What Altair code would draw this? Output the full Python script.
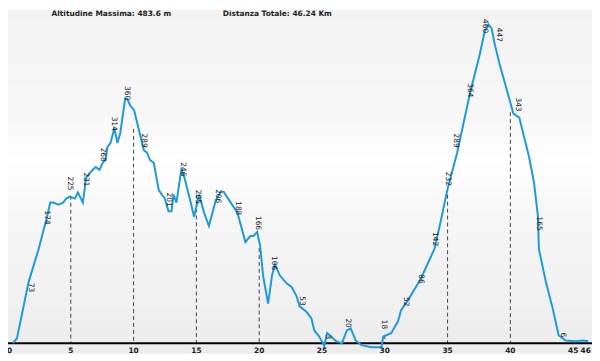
import altair as alt
import pandas as pd

# Elevation profile (distance in km, altitude in m)
km = [0.39, 0.71, 1.65, 2.43, 3.06, 3.37, 3.61, 4.00, 4.39, 4.63, 4.94, 5.33, 5.57, 5.96,
      6.12, 6.20, 6.51, 6.75, 6.98, 7.29, 7.53, 7.76, 7.92, 8.16, 8.47, 8.71, 8.94, 9.33,
      9.49, 9.73, 10.04, 10.43, 10.82, 11.06, 11.29, 11.61, 12.00, 12.24, 12.47, 12.78,
      13.02, 13.18, 13.41, 13.80, 14.04, 14.43, 14.82, 15.22, 15.61, 16.00, 16.55, 16.94,
      17.18, 17.73, 18.27, 18.90, 19.29, 19.53, 19.84, 20.08, 20.31, 20.71, 21.02, 21.25,
      21.65, 22.20, 22.59, 22.98, 23.22, 23.76, 24.16, 24.39, 24.78, 25.18, 25.41, 25.73,
      26.12, 26.59, 26.98, 27.29, 27.69, 28.16, 28.94, 29.73, 29.88, 30.51, 31.06, 31.29,
      31.84, 32.86, 33.96, 34.43, 34.98, 35.76, 36.78, 37.57, 37.96, 38.27, 38.51, 38.75,
      39.14, 40.24, 40.71, 41.49, 41.88, 42.20, 42.27, 42.82, 43.37, 43.84, 44.39, 45.18,
      45.80, 46.20]
elev = [0, 7, 92, 140, 185, 210, 210, 207, 210, 216, 219, 216, 225, 210,
        232, 247, 254, 259, 263, 259, 269, 274, 293, 299, 321, 299, 314, 365,
        365, 355, 348, 318, 288, 285, 274, 269, 229, 222, 217, 197,
        197, 222, 210, 259, 248, 219, 189, 222, 195, 175, 214, 226,
        226, 210, 195, 151, 160, 160, 166, 145, 101, 59, 101, 118,
        101, 89, 84, 70, 55, 47, 37, 19, 10, -4, 15, 10,
        3, 0, 19, 22, 4, -3, -6, -6, 10, 15, 33, 49,
        64, 96, 141, 180, 229, 284, 373, 432, 466, 476, 470, 447,
        417, 343, 337, 278, 240, 189, 141, 92, 52, 12, 4, 3,
        4, 3]

# Altitude labels along the profile
label_km = [1.8, 3.14, 4.94, 6.2, 7.53, 8.4, 9.5, 10.8, 12.8, 13.9, 15.1, 16.7, 18.3,
            19.9, 21.2, 23.4, 25.5, 27.1, 29.9, 31.7, 32.9, 34.0, 35.0, 35.7, 36.8,
            38.0, 39.1, 40.6, 42.3, 44.2]
label_val = [73, 174, 225, 231, 268, 314, 360, 289, 201, 246, 205, 206, 188,
             166, 106, 53, 3, 20, 18, 52, 86, 142, 232, 289, 364,
             460, 447, 343, 165, 6]

# Dashed drop lines every 5 km
drop_km = [5, 10, 15, 20, 25, 30, 35, 40]
drop_elev = [220, 320, 222, 142, 2, 12, 232, 345]

# Distance axis labels
tick_km = [0, 5, 10, 15, 20, 25, 30, 35, 40, 45, 46]
tick_text = ["0", "5", "10", "15", "20", "25", "30", "35", "40", "45", "46"]

title_left = "Altitudine Massima: 483.6 m"
title_right = "Distanza Totale: 46.24 Km"

W, H = 590, 347

# Background shading: vertical gradient built from thin bands (styling only)
stops = [(0.0, 242), (0.3, 247), (0.45, 255), (0.6, 246), (1.0, 236)]
N = 60
b_top, b_bot, b_col = [], [], []
for i in range(N):
    f = (i + 0.5) / N
    for (o0, v0), (o1, v1) in zip(stops[:-1], stops[1:]):
        if o0 <= f <= o1:
            v = round(v0 + (v1 - v0) * (f - o0) / (o1 - o0))
            break
    b_top.append(i * H / N)
    b_bot.append((i + 1) * H / N + 0.6)
    b_col.append("#%02x%02x%02x" % (v, v, v))

xs = alt.Scale(domain=[0, 46.5], nice=False, zero=False)
ys = alt.Scale(domain=[-15, 498], nice=False, zero=False)

prof = pd.DataFrame({"km": km, "elev": elev})
labs = pd.DataFrame({"km": label_km, "elev": label_val})
drops = pd.DataFrame({"km": drop_km, "elev": drop_elev})
ticks = pd.DataFrame({"km": tick_km, "t": tick_text})
bands = pd.DataFrame({"yt": b_top, "yb": b_bot, "c": b_col})
one = pd.DataFrame({"a": [0]})

bg = alt.Chart(bands).mark_rect().encode(
    x=alt.value(0), x2=alt.value(W),
    y=alt.Y("yt:Q", scale=None, axis=None), y2="yb:Q",
    color=alt.Color("c:N", scale=None, legend=None),
)

X = alt.X("km:Q", scale=xs, axis=None)
Y = alt.Y("elev:Q", scale=ys, axis=None)

drop_layer = alt.Chart(drops).mark_rule(
    color="#444444", strokeWidth=1, strokeDash=[4, 3]
).encode(x=X, y=Y, y2=alt.Y2(datum=0))

base_rule = alt.Chart(one).mark_rule(color="#000000", strokeWidth=2).encode(
    y=alt.Y(datum=0, scale=ys, axis=None), x=alt.value(0), x2=alt.value(W)
)

line = alt.Chart(prof).mark_line(
    color="#1e9ad8", strokeWidth=2, interpolate="linear"
).encode(x=X, y=Y)

label_layer = alt.Chart(labs).mark_text(
    angle=90, align="right", baseline="middle", dx=-2,
    fontSize=7.5, font="DejaVu Sans", color="#222222"
).encode(x=X, y=Y, text=alt.Text("elev:Q"))

tick_layer = alt.Chart(ticks.iloc[1:].reset_index(drop=True)).mark_text(
    align="center", baseline="top", dy=4, fontSize=7.5, fontWeight="bold",
    font="DejaVu Sans", color="#222222"
).encode(x=X, y=alt.Y(datum=0, scale=ys, axis=None), text="t:N")

tick0_layer = alt.Chart(ticks.iloc[:1]).mark_text(
    align="left", baseline="top", dy=4, dx=-1, fontSize=7.5, fontWeight="bold",
    font="DejaVu Sans", color="#222222"
).encode(x=X, y=alt.Y(datum=0, scale=ys, axis=None), text="t:N")

t1 = alt.Chart(one).mark_text(
    align="left", baseline="top", fontSize=7.5, fontWeight="bold",
    font="DejaVu Sans", color="#222222", text=title_left
).encode(x=alt.value(44), y=alt.value(0))

t2 = alt.Chart(one).mark_text(
    align="left", baseline="top", fontSize=7.5, fontWeight="bold",
    font="DejaVu Sans", color="#222222", text=title_right
).encode(x=alt.value(217), y=alt.value(0))

fg = alt.layer(
    drop_layer, base_rule, line, label_layer, tick_layer, tick0_layer, t1, t2
)

chart = alt.layer(bg, fg).resolve_scale(y="independent").properties(
    width=W, height=H,
    autosize=alt.AutoSizeParams(type="none"),
    padding={"left": 0, "top": 0, "right": 0, "bottom": 0},
).configure_view(stroke=None)

chart.save("out.html", embed_options={"renderer": "svg", "actions": False})
